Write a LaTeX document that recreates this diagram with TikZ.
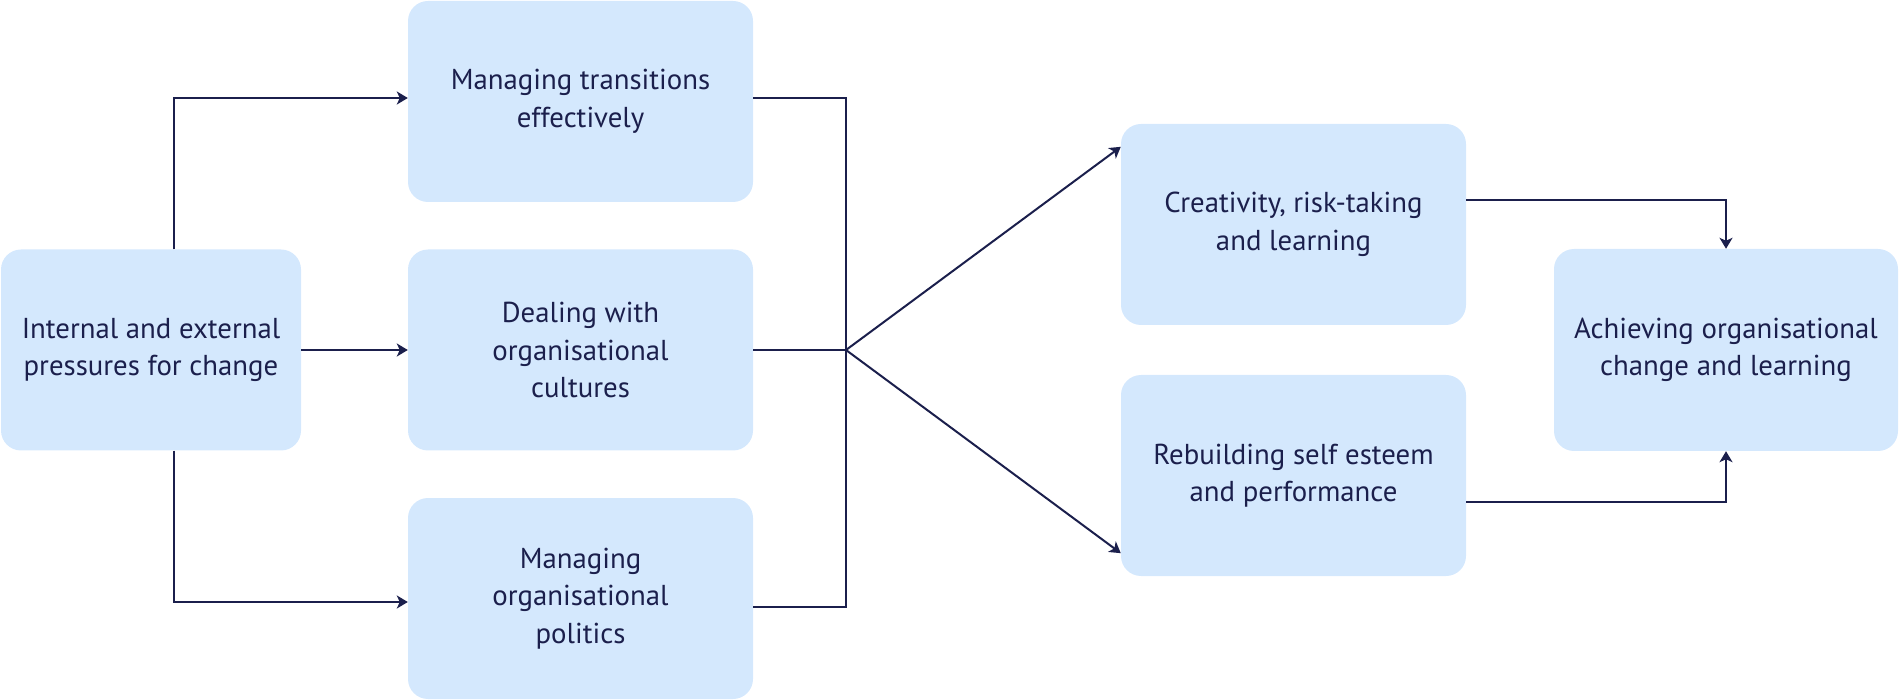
\documentclass[tikz,border=0pt]{standalone}
\usepackage{fontspec}
\setmainfont{PT Sans}
\usetikzlibrary{arrows.meta}
\definecolor{boxfill}{RGB}{212,232,253}
\definecolor{navy}{RGB}{27,31,76}
\tikzset{
  box/.style={fill=boxfill, draw=none, rounded corners=20pt, align=center,
    text=navy, font=\fontsize{28.8}{37.5}\selectfont, inner sep=0pt},
  wbox/.style={box, minimum width=345pt, minimum height=201pt},
  conn/.style={draw=navy, line width=2pt},
  arr/.style={conn, -{Stealth[length=11pt, width=13pt, inset=3pt]}}
}
\begin{document}
\begin{tikzpicture}[x=1pt, y=-1pt]
\useasboundingbox (0,0) rectangle (1899,700);
\node[box, minimum width=300pt, minimum height=201pt] (L) at (151,350) {Internal and external\\pressures for change};
\node[wbox] (T) at (580.5,101.5) {Managing transitions\\effectively};
\node[wbox] (M) at (580.5,350) {Dealing with\\organisational\\cultures};
\node[wbox] (B) at (580.5,598.5) {Managing\\organisational\\politics};
\node[wbox] (C) at (1293.5,224.5) {Creativity, risk-taking\\and learning};
\node[wbox] (R) at (1293.5,475.5) {Rebuilding self esteem\\and performance};
\node[box, minimum width=344pt, minimum height=202pt] (A) at (1726,350) {Achieving organisational\\change and learning};
\coordinate (F) at (846,350);
% left fan-out
\draw[arr] ([xshift=23pt]L.north) |- ([yshift=3.5pt]T.west);
\draw[arr] (L.east) -- (M.west);
\draw[arr] ([xshift=23pt]L.south) |- ([yshift=-3.5pt]B.west);
% collect
\draw[conn] ([yshift=3.5pt]T.east) -| (F);
\draw[conn] ([yshift=-8.5pt]B.east) -| (F);
\draw[conn] (M.east) -- (F);
% fan to right
\draw[arr] (F) -- ([yshift=-23pt]C.north west);
\draw[arr] (F) -- ([yshift=23pt]R.south west);
% into result
\draw[arr] ([yshift=24.5pt]C.east) -| (A.north);
\draw[arr] ([yshift=-26.5pt]R.east) -| (A.south);
\end{tikzpicture}
\end{document}
